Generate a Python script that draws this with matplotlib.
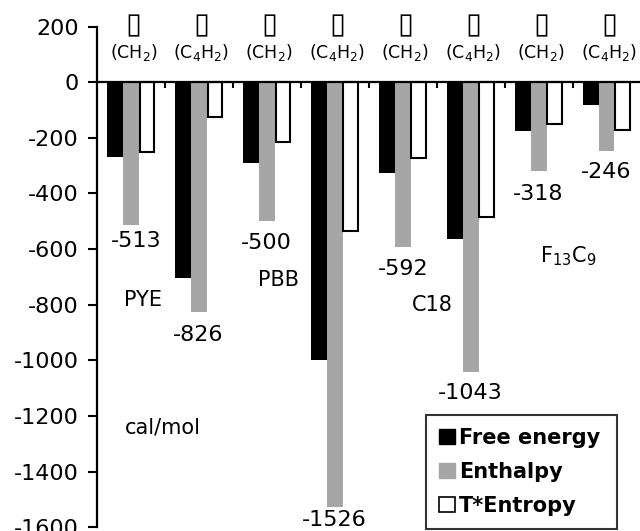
import matplotlib
matplotlib.use("Agg")
import matplotlib.pyplot as plt
from matplotlib.patches import Patch
import numpy as np

plt.rcParams['font.family'] = ['DejaVu Sans']

groups = ["(CH$_2$)", "(C$_4$H$_2$)", "(CH$_2$)", "(C$_4$H$_2$)",
          "(CH$_2$)", "(C$_4$H$_2$)", "(CH$_2$)", "(C$_4$H$_2$)"]
free_energy = [-268, -705, -291, -998, -325, -563, -175, -82]
enthalpy = [-513, -826, -500, -1526, -592, -1043, -318, -246]
t_entropy = [-252, -126, -215, -534, -271, -483, -150, -172]
series_names = ["Free energy", "Enthalpy", "T*Entropy"]
yticks = list(range(-1600, 201, 200))

# value labels (text, x, y) in data coordinates
value_labels = [("-513", 0.567, -571), ("-826", 1.479, -908), ("-500", 2.48, -578),
                ("-1526", 3.48, -1574), ("-592", 4.497, -672), ("-1043", 5.484, -1118),
                ("-318", 6.484, -402), ("-246", 7.485, -323)]
name_labels = [("PYE", 0.67, -783), ("PBB", 2.672, -711), ("C18", 4.924, -801),
               ("F$_{13}$C$_9$", 6.926, -625), ("cal/mol", 0.964, -1243)]

fig = plt.figure(figsize=(6.4, 5.31), dpi=100)
ax = fig.add_axes([0.1523, 0.00734, 0.849, 0.9424])

x = np.arange(len(groups))
w = 0.233
ax.bar(x + 0.262, free_energy, width=w, color='black', linewidth=0, zorder=2)
ax.bar(x + 0.495, enthalpy, width=w, color='#a6a6a6', linewidth=0, zorder=2)
ax.bar(x + 0.728, t_entropy, width=w - 0.02, color='white', edgecolor='black',
       linewidth=1.5, zorder=2)

ax.set_xlim(0, len(groups))
ax.set_ylim(-1600, 200)
ax.set_yticks(yticks)
ax.set_yticklabels([str(v) for v in yticks], fontsize=16)
ax.tick_params(axis='y', direction='out', length=6.5, width=1.5, pad=7)

ax.spines['top'].set_visible(False)
ax.spines['right'].set_visible(False)
ax.spines['left'].set_linewidth(1.6)
ax.spines['bottom'].set_position(('data', 0))
ax.spines['bottom'].set_linewidth(1.6)
ax.spines['bottom'].set_zorder(3)
ax.set_xticks(np.arange(1, len(groups)))
ax.set_xticklabels([])
ax.tick_params(axis='x', direction='out', length=4, width=1.5)

for i, g in enumerate(groups):
    ax.text(i + 0.53, 205, "\u25af", ha='center', va='center', fontsize=21,
            family=['DejaVu Sans', 'Noto Sans CJK JP', 'Noto Sans', 'Lato'],
            clip_on=False)
    ax.text(i + 0.53, 86, g, ha='center', va='baseline', fontsize=12.5, clip_on=False)

for t, xx, yy in value_labels:
    ax.text(xx, yy, t, ha='center', va='center', fontsize=16)
for t, xx, yy in name_labels:
    ax.text(xx, yy, t, ha='center', va='center', fontsize=15)

handles = [Patch(facecolor='black', edgecolor='black'),
           Patch(facecolor='#a6a6a6', edgecolor='#a6a6a6'),
           Patch(facecolor='white', edgecolor='black', linewidth=1.2)]
leg = ax.legend(handles, series_names, loc='lower left',
                bbox_to_anchor=(426 / 640, 2 / 531, 191 / 640, 116 / 531),
                bbox_transform=fig.transFigure, mode='expand',
                prop={'weight': 'bold', 'size': 15}, frameon=True, fancybox=False,
                handlelength=0.75, handleheight=0.75, handletextpad=0.22,
                labelspacing=0.68, borderpad=0.62, borderaxespad=0)
leg.get_frame().set_edgecolor('black')
leg.get_frame().set_linewidth(1.5)

fig.savefig("out.png", dpi=100)
